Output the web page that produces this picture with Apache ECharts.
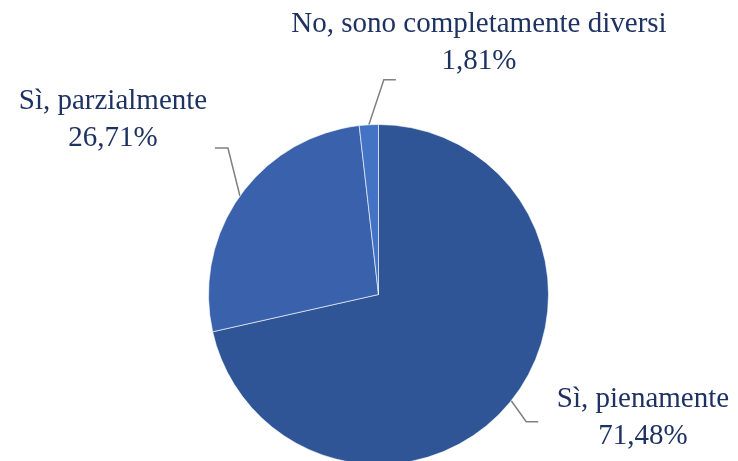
<!DOCTYPE html>
<html>
<head>
<meta charset="utf-8">
<script src="https://cdn.jsdelivr.net/npm/echarts@6/dist/echarts.min.js"></script>
<style>
  html, body { margin: 0; padding: 0; background: #fff; }
  #chart { width: 738px; height: 461px; }
</style>
</head>
<body>
<div id="chart"></div>
<script>
// dati del grafico
const categories = ['Sì, pienamente', 'Sì, parzialmente', 'No, sono completamente diversi']
const values = [71.48, 26.71, 1.81]
const colors = ['#2F5597', '#3A62AC', '#4472C4']
// centri delle etichette e forma delle linee guida (spostamenti relativi)
const labelCenters = [[643, 418], [113, 120], [479, 43]]
const guideBends = [[[15, 21], [12, 0]], [[-12, -48], [-13, 0]], [[15, -45], [12, 0]]]

const chart = echarts.init(document.getElementById('chart'))

const option = {
  animation: false,
  series: [
    {
      type: 'pie',
      center: [378.5, 294.5],
      radius: 170,
      startAngle: 90,
      clockwise: true,
      data: categories.map((name, i) => ({
        name,
        value: values[i],
        itemStyle: { color: colors[i] },
      })),
      itemStyle: { borderColor: 'rgba(255,255,255,0.6)', borderWidth: 1 },
      label: {
        show: true,
        fontFamily: 'Liberation Serif',
        fontSize: 29,
        lineHeight: 37,
        color: '#1E3262',
        align: 'center',
        overflow: 'none',
        formatter: (p) => p.name + '\n' + p.value.toFixed(2).replace('.', ',') + '%',
      },
      labelLine: {
        show: true,
        length: 25,
        length2: 12,
        lineStyle: { color: '#808080', width: 1.5 },
      },
      labelLayout: (params) => {
        const i = params.dataIndex
        const c = labelCenters[i]
        const out = { x: c[0], y: c[1], align: 'center', verticalAlign: 'middle' }
        const pts = params.labelLinePoints
        if (pts && pts.length) {
          const p0 = pts[0]
          const b = guideBends[i]
          const p1 = [p0[0] + b[0][0], p0[1] + b[0][1]]
          const p2 = [p1[0] + b[1][0], p1[1] + b[1][1]]
          out.labelLinePoints = [p0, p1, p2]
        }
        return out
      },
      emphasis: { disabled: true },
    },
  ],
}
chart.setOption(option)
</script>
</body>
</html>
